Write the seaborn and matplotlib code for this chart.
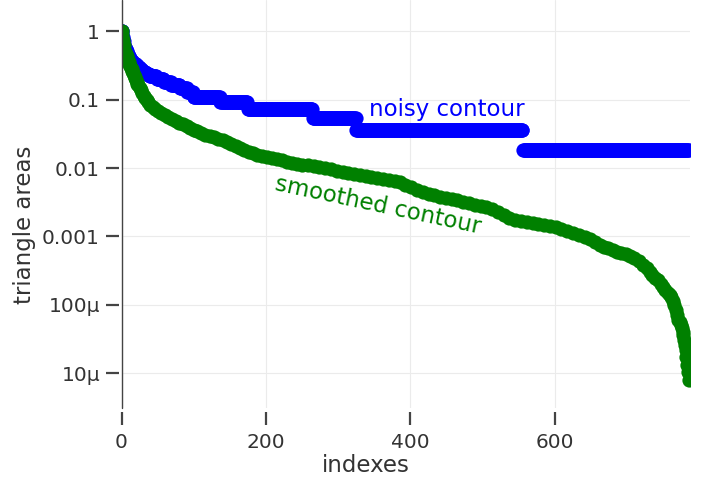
import numpy as np
import pandas as pd
import matplotlib
matplotlib.use('Agg')
import matplotlib.pyplot as plt
from matplotlib.ticker import NullLocator
import seaborn as sns

# noisy contour: sorted triangle areas come in a few discrete levels (value, how many points)
noisy_levels = [1.0, 0.818, 0.727, 0.636, 0.582, 0.545, 0.509, 0.473, 0.455, 0.436, 0.418, 0.4,
                0.382, 0.364, 0.345, 0.327, 0.309, 0.291, 0.273, 0.255, 0.236, 0.218, 0.2, 0.182,
                0.164, 0.145, 0.127, 0.109, 0.0909, 0.0727, 0.0545, 0.0364, 0.0182]
noisy_counts = [2, 1, 1, 1, 1, 1, 1, 1, 1, 1, 1, 1,
                1, 2, 2, 3, 3, 3, 3, 4, 5, 10, 10, 10,
                12, 10, 9, 37, 38, 90, 60, 231, 230]

# smoothed contour: sorted triangle areas
smooth_idx = [0, 1, 2, 3, 4, 5, 6, 7, 8, 9, 10, 11, 12, 13, 14, 15, 16, 17, 18, 19, 20, 21, 22, 23,
              25, 27, 29, 31, 33, 35, 37, 40, 43, 47, 51, 55, 60, 65, 70, 75, 80, 85, 90, 95, 100,
              105, 110, 116, 122, 128, 134, 140, 146, 152, 158, 164, 170, 176, 182, 188, 194, 201,
              208, 215, 222, 229, 236, 243, 250, 258, 266, 274, 282, 290, 298, 306, 314, 322, 330,
              338, 346, 354, 362, 370, 378, 385, 393, 401, 409, 417, 425, 433, 441, 449, 457, 465,
              473, 481, 489, 497, 505, 513, 521, 529, 537, 545, 553, 561, 569, 577, 585, 593, 601,
              609, 617, 625, 633, 641, 649, 656, 662, 668, 674, 680, 686, 692, 698, 704, 710, 716,
              722, 727, 731, 735, 739, 743, 747, 750, 753, 756, 759, 761, 763, 765, 767, 769, 771,
              773, 775, 776, 777, 778, 779, 780, 781, 782, 783, 784, 785]
smooth_area = [1.0, 0.874, 0.739, 0.625, 0.528, 0.494, 0.462, 0.432, 0.403, 0.377, 0.353, 0.330,
               0.308, 0.288, 0.279, 0.261, 0.244, 0.228, 0.213, 0.206, 0.193, 0.180, 0.168, 0.163,
               0.147, 0.138, 0.124, 0.112, 0.105, 0.0983, 0.0919, 0.0831, 0.0777, 0.0726, 0.0679,
               0.0635, 0.0594, 0.0555, 0.0519, 0.0485, 0.0454, 0.0439, 0.0410, 0.0384, 0.0359,
               0.0347, 0.0324, 0.0303, 0.0293, 0.0284, 0.0265, 0.0256, 0.0240, 0.0224, 0.0210,
               0.0196, 0.0183, 0.0171, 0.0166, 0.0155, 0.0150, 0.0145, 0.0140, 0.0135, 0.0131,
               0.0122, 0.0118, 0.0114, 0.0111, 0.0109, 0.0107, 0.0103, 0.0100, 0.00967, 0.00904,
               0.00874, 0.00845, 0.00818, 0.00790, 0.00764, 0.00739, 0.00714, 0.00691, 0.00668,
               0.00646, 0.00625, 0.00565, 0.00528, 0.00477, 0.00446, 0.00417, 0.00403, 0.00377,
               0.00365, 0.00353, 0.00341, 0.00319, 0.00308, 0.00288, 0.00279, 0.00270, 0.00252,
               0.00228, 0.00206, 0.00186, 0.00174, 0.00168, 0.00163, 0.00157, 0.00152, 0.00147,
               0.00142, 0.00138, 0.00129, 0.00120, 0.00112, 0.00105, 0.000983, 0.000919,
               0.000831, 0.000751, 0.000703, 0.000679, 0.000635, 0.000594, 0.000574, 0.000555,
               0.000519, 0.000485, 0.000439, 0.000384, 0.000347, 0.000303, 0.000274, 0.000248,
               0.000232, 0.000203, 0.000183, 0.000166, 0.000150, 0.000140, 0.000131, 0.000114,
               0.000100, 8.45e-5, 7.14e-5, 6.04e-5, 5.65e-5, 5.10e-5, 4.61e-5, 4.03e-5, 3.65e-5,
               3.08e-5, 2.61e-5, 2.20e-5, 1.74e-5, 1.33e-5, 1.05e-5, 8.04e-6]

ytick_vals = [1, 0.1, 0.01, 0.001, 1e-4, 1e-5]
ytick_labels = ['1', '0.1', '0.01', '0.001', '100\u03bc', '10\u03bc']
xtick_vals = [0, 200, 400, 600]

# ---------- data frames ----------
noisy_area = np.repeat(noisy_levels, noisy_counts)
noisy = pd.DataFrame({'index': np.arange(len(noisy_area)), 'area': noisy_area})
smooth = pd.DataFrame({'index': smooth_idx, 'area': smooth_area})

# ---------- style ----------
sns.set_style('white')
plt.rcParams['font.family'] = ['DejaVu Sans']
text_col = '#333333'
axis_col = '#444444'

fig = plt.figure(figsize=(7.09, 4.82), dpi=100)
ax = fig.add_axes([121.5 / 709, 1 - 408 / 482, 568.5 / 709, 408 / 482])

sns.scatterplot(data=noisy, x='index', y='area', color='#0000ff', s=105, linewidth=0,
                ax=ax, legend=False, zorder=3)
sns.scatterplot(data=smooth, x='index', y='area', color='#008000', s=105, linewidth=0,
                ax=ax, legend=False, zorder=4)

ax.set_yscale('log')
ax.set_xlim(0, 787)
ax.set_ylim(3.13e-6, 2.84)

ax.set_yticks(ytick_vals)
ax.set_yticklabels(ytick_labels)
ax.yaxis.set_minor_locator(NullLocator())
ax.set_xticks(xtick_vals)

ax.grid(True, color='#ebebeb', linewidth=0.8, zorder=0)
ax.set_axisbelow(True)

for side in ['top', 'right', 'bottom', 'left']:
    ax.spines[side].set_visible(False)
ax.spines['left'].set_position(('outward', 1.8))
ax.spines['bottom'].set_position(('outward', 2.9))
ax.axvline(0, color=axis_col, linewidth=1.0, clip_on=False, zorder=5)

ax.tick_params(axis='y', length=9.4, width=1.6, color=axis_col, pad=4.3,
               labelsize=14.5, labelcolor=text_col, left=True)
ax.tick_params(axis='x', length=9.4, width=1.6, color=axis_col, pad=6,
               labelsize=14.5, labelcolor=text_col, bottom=True)

ax.set_xlabel('indexes', fontsize=16.5, color=text_col)
ax.set_ylabel('triangle areas', fontsize=16.5, color=text_col)
ax.xaxis.label.set_va('center')
ax.yaxis.label.set_va('center')
ax.xaxis.set_label_coords(0.430, -0.140)
ax.yaxis.set_label_coords(-0.170, 0.449)

ax.text(451, 0.0574, 'noisy contour', color='#0000ff', fontsize=16.5,
        ha='center', va='baseline')
ax.text(353, 0.00228, 'smoothed contour', color='#008000', fontsize=16.5,
        ha='center', va='baseline', rotation=-12, rotation_mode='anchor')

fig.savefig('out.png', dpi=100)
